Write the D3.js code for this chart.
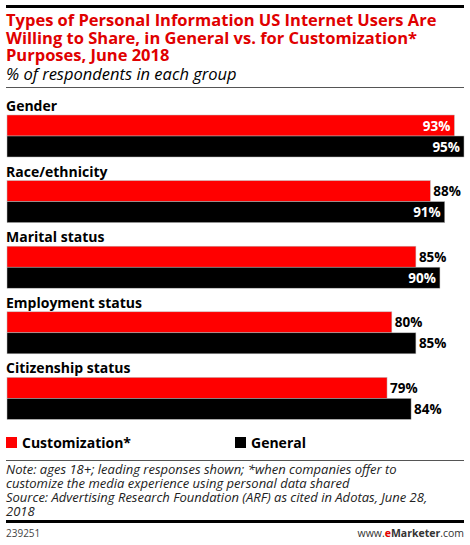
<!DOCTYPE html>
<html>
<head>
<meta charset="utf-8">
<script src="https://cdn.jsdelivr.net/npm/d3@7"></script>
<style>
  body { margin: 0; background: #fff; }
  svg { display: block; }
</style>
</head>
<body>
<div id="chart"></div>
<script>
var categories = ["Gender", "Race/ethnicity", "Marital status", "Employment status", "Citizenship status"];
var customization = [93, 88, 85, 80, 79];
var general = [95, 91, 90, 85, 84];
var seriesNames = ["Customization*", "General"];
var seriesColors = ["#ff0000", "#000000"];

var W = 470, H = 545;
var font = "'Open Sans', sans-serif";

var svg = d3.select("#chart").append("svg")
    .attr("width", W)
    .attr("height", H);

// top rule
svg.append("rect").attr("x", 6).attr("y", 5).attr("width", 458).attr("height", 3).attr("fill", "#000");

var titleLines = ["Types of Personal Information US Internet Users Are",
                  "Willing to Share, in General vs. for Customization*",
                  "Purposes, June 2018"];
svg.selectAll("text.title")
    .data(titleLines)
    .enter().append("text")
    .attr("class", "title")
    .attr("x", 6)
    .attr("y", function(d, i) { return 26 + i * 17.5; })
    .attr("font-family", font)
    .attr("font-weight", "bold")
    .attr("font-size", "16.5px")
    .attr("fill", "#e00000")
    .text(function(d) { return d; });

svg.append("text")
    .attr("x", 6).attr("y", 80)
    .attr("font-family", font)
    .attr("font-style", "italic")
    .attr("font-size", "16.5px")
    .attr("fill", "#000")
    .text("% of respondents in each group");

svg.append("line").attr("x1", 6).attr("x2", 464).attr("y1", 87.5).attr("y2", 87.5)
    .attr("stroke", "#555").attr("stroke-width", 1);

// scales
var x = d3.scaleLinear().domain([0, 95]).range([7, 464]);
var y = d3.scaleBand().domain(categories).range([96, 424]).paddingInner(0);
var barH = 21;

var groups = svg.selectAll("g.grp")
    .data(categories)
    .enter().append("g")
    .attr("class", "grp")
    .attr("transform", function(d) { return "translate(0," + y(d) + ")"; });

groups.append("text")
    .attr("x", 6).attr("y", 15)
    .attr("font-family", font)
    .attr("font-weight", "bold")
    .attr("font-size", "14px")
    .attr("fill", "#000")
    .text(function(d) { return d; });

var series = [customization, general];
series.forEach(function(vals, s) {
    groups.append("rect")
        .attr("x", x(0))
        .attr("y", 19 + s * barH)
        .attr("width", function(d, i) { return x(vals[i]) - x(0); })
        .attr("height", barH)
        .attr("fill", seriesColors[s])
        .attr("stroke", "#bbb")
        .attr("stroke-width", 0.5);

    groups.append("text")
        .attr("y", 19 + s * barH + 15.5)
        .attr("font-family", font)
        .attr("font-weight", "bold")
        .attr("font-size", "13.5px")
        .each(function(d, i) {
            var end = x(vals[i]);
            var inside = end + 36 > W;
            d3.select(this)
                .attr("x", inside ? end - 4 : end + 3)
                .attr("text-anchor", inside ? "end" : "start")
                .attr("fill", inside ? "#fff" : "#000");
        })
        .text(function(d, i) { return vals[i] + "%"; });
});

// legend
var legX = [6, 235];
seriesNames.forEach(function(name, s) {
    svg.append("rect").attr("x", legX[s]).attr("y", 437).attr("width", 11).attr("height", 11)
        .attr("fill", seriesColors[s]);
    svg.append("text")
        .attr("x", legX[s] + 16).attr("y", 447.5)
        .attr("font-family", font)
        .attr("font-weight", "bold")
        .attr("font-size", "14px")
        .attr("fill", "#000")
        .text(name);
});

svg.append("line").attr("x1", 6).attr("x2", 464).attr("y1", 460.5).attr("y2", 460.5)
    .attr("stroke", "#555").attr("stroke-width", 1);

var noteLines = ["Note: ages 18+; leading responses shown; *when companies offer to",
                 "customize the media experience using personal data shared",
                 "Source: Advertising Research Foundation (ARF) as cited in Adotas, June 28,",
                 "2018"];
svg.selectAll("text.note")
    .data(noteLines)
    .enter().append("text")
    .attr("class", "note")
    .attr("x", 6)
    .attr("y", function(d, i) { return 474 + i * 14; })
    .attr("font-family", font)
    .attr("font-style", "italic")
    .attr("font-size", "13px")
    .attr("fill", "#222")
    .text(function(d) { return d; });

svg.append("rect").attr("x", 6).attr("y", 520).attr("width", 458).attr("height", 3).attr("fill", "#000");

svg.append("text")
    .attr("x", 6).attr("y", 537)
    .attr("font-family", font)
    .attr("font-size", "10px")
    .attr("fill", "#444")
    .text("239251");

var brand = svg.append("text")
    .attr("x", 464).attr("y", 537)
    .attr("text-anchor", "end")
    .attr("font-family", font)
    .attr("font-size", "10.5px")
    .attr("fill", "#333");
brand.append("tspan").text("www.");
brand.append("tspan").attr("fill", "#e00000").attr("font-weight", "bold").text("e");
brand.append("tspan").attr("font-weight", "bold").text("Marketer");
brand.append("tspan").text(".com");
</script>
</body>
</html>
